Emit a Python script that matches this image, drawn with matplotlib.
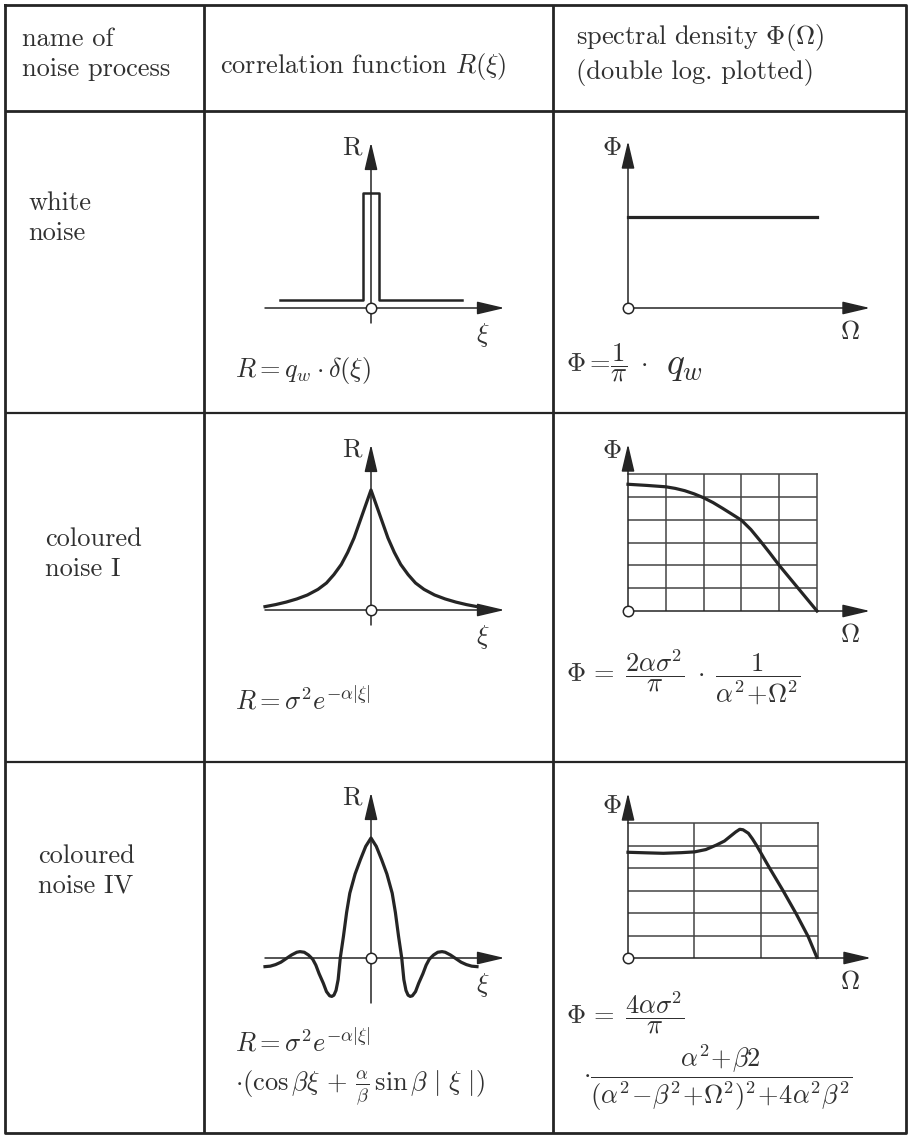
import matplotlib
matplotlib.use('Agg')
import matplotlib.pyplot as plt
from matplotlib.ticker import NullLocator
import numpy as np

W, H = 911, 1138
INK = '#252525'
TEXT = '#303030'
GRID = '#444444'
FS = 19

plt.rcParams.update({
    'mathtext.fontset': 'cm',
    'font.family': ['cmr10', 'DejaVu Serif'],
    'axes.unicode_minus': False,
})

# table text
header_name = 'name of\nnoise process'
header_corr = r'correlation function $R(\xi)$'
header_spec = 'spectral density $\\Phi(\\Omega)$\n(double log. plotted)'
row_names = ['white\nnoise', 'coloured\nnoise I', 'coloured\nnoise IV']

# correlation functions: xi scaled to the drawn half-width, R scaled to R(0)
xi_white = [-0.86, -0.075, -0.075, 0.075, 0.075, 0.86]
R_white = [0.0, 0.0, 0.89, 0.89, 0.0, 0.0]

xi_c1 = [-1.0, -0.9, -0.8, -0.7, -0.6, -0.5, -0.42, -0.35, -0.28, -0.22, -0.16, -0.1, -0.05, 0.0,
         0.05, 0.1, 0.16, 0.22, 0.28, 0.35, 0.42, 0.5, 0.6, 0.7, 0.8, 0.9, 1.0]
R_c1 = [0.028, 0.045, 0.066, 0.092, 0.125, 0.172, 0.225, 0.295, 0.38, 0.48, 0.6, 0.75, 0.875, 1.0,
        0.875, 0.75, 0.6, 0.48, 0.38, 0.295, 0.225, 0.172, 0.125, 0.092, 0.066, 0.045, 0.028]

xi_c4 = [-1.0, -0.95, -0.9, -0.85, -0.8, -0.75, -0.7, -0.67, -0.63, -0.59, -0.55, -0.52,
         -0.49, -0.45, -0.42, -0.39, -0.37, -0.35, -0.33, -0.31, -0.29, -0.26, -0.23,
         -0.2, -0.15, -0.1, -0.05, 0.0,
         0.05, 0.1, 0.15, 0.2, 0.23, 0.26, 0.29, 0.31, 0.33, 0.35, 0.37, 0.39, 0.42,
         0.45, 0.49, 0.52, 0.55, 0.59, 0.63, 0.67, 0.7, 0.75, 0.8, 0.85, 0.9, 0.95, 1.0]
R_c4 = [-0.072, -0.068, -0.055, -0.035, -0.005, 0.025, 0.048, 0.053, 0.048, 0.025, -0.01, -0.06,
        -0.13, -0.21, -0.28, -0.315, -0.32, -0.31, -0.27, -0.18, 0.0, 0.18, 0.38,
        0.54, 0.70, 0.82, 0.93, 1.0,
        0.93, 0.82, 0.70, 0.54, 0.38, 0.18, 0.0, -0.18, -0.27, -0.31, -0.32, -0.315, -0.28,
        -0.21, -0.13, -0.06, -0.01, 0.025, 0.048, 0.053, 0.048, 0.025, -0.005, -0.035, -0.055,
        -0.068, -0.072]

# spectral densities (log-log)
Om_white = [0.01, 1000]
Phi_white = [0.01, 0.01]

Om_c1 = [0.01, 0.0316, 0.1, 0.178, 0.316, 0.562, 1.0, 1.78, 3.16, 5.62, 10, 17.8, 31.6,
         56.2, 100, 316, 1000]
Phi_c1 = [0.355, 0.316, 0.275, 0.234, 0.186, 0.135, 0.091, 0.056, 0.0316, 0.0174, 0.0095,
          0.0037, 0.00117, 3.5e-4, 1.0e-4, 1.0e-5, 1.0e-6]

Om_c4 = [0.1, 0.2, 0.34, 0.63, 1.0, 1.48, 2.14, 2.82, 3.39, 4.17, 4.79, 5.37, 6.46, 7.41,
         8.51, 13.5, 21.4, 33.9, 51.3, 69.2]
Phi_c4 = [0.050, 0.047, 0.045, 0.048, 0.052, 0.066, 0.105, 0.158, 0.245, 0.40, 0.525, 0.50,
          0.35, 0.20, 0.105, 0.0098, 0.001, 9.1e-5, 8.9e-6, 1.07e-6]

fig = plt.figure(figsize=(W / 100, H / 100), dpi=100)
base = fig.add_axes([0, 0, 1, 1])
base.set_xlim(0, W)
base.set_ylim(H, 0)
base.axis('off')

# table frame
x_left, x_c1, x_c2, x_right = 5, 204, 553, 906
y_top, y_head, y_r1, y_r2, y_bot = 5, 111, 413, 762, 1133
base.plot([x_left, x_right, x_right, x_left, x_left],
          [y_top, y_top, y_bot, y_bot, y_top], color=INK, lw=2.0)
base.hlines(y_head, x_left, x_right, color=INK, lw=2.0)
base.hlines([y_r1, y_r2], x_left, x_right, color=INK, lw=1.6)
base.vlines([x_c1, x_c2], y_top, y_bot, color=INK, lw=2.0)

txt = dict(color=TEXT, fontsize=FS, va='center', ha='left', linespacing=1.3)
base.text(22, 54, header_name, **txt)
base.text(220, 66, header_corr, **txt)
base.text(576, 54, header_spec, **txt)
for name, (x, y) in zip(row_names, [(28, 218), (45, 554), (38, 871)]):
    base.text(x, y, name, **txt)

ARROW = dict(arrowstyle='-|>,head_length=0.85,head_width=0.2',
             mutation_scale=20, lw=1.1, color=INK, shrinkA=0, shrinkB=0)


def px_axes(l, t, r, b):
    return fig.add_axes([l / W, 1 - b / H, (r - l) / W, (b - t) / H])


# correlation function panels
ox, sx, sy = 371, 106, 120
corr = [
    (xi_white, R_white, 308, 0.067, -0.125, 1.8),
    (xi_c1, R_c1, 610, 0.0, -0.125, 2.3),
    (xi_c4, R_c4, 958, 0.0, -0.375, 2.3),
]
for xi, R, ay, lift, stub, lw in corr:
    ax = px_axes(250, ay - 180, 520, ay + 60)
    ax.set_xlim((250 - ox) / sx, (520 - ox) / sx)
    ax.set_ylim(-60 / sy, 180 / sy)
    ax.axis('off')
    ax.annotate('', xy=(1.26, 0), xytext=(-1.0, 0), arrowprops=ARROW, annotation_clip=False)
    ax.annotate('', xy=(0, 1.38), xytext=(0, stub), arrowprops=ARROW, annotation_clip=False)
    ax.plot(xi, np.asarray(R) + lift, color=INK, lw=lw, solid_joinstyle='round', clip_on=False)
    ax.plot(0, 0, 'o', ms=7.5, mfc='white', mec=INK, mew=1.1, zorder=5, clip_on=False)
    base.text(352, ay - 160, 'R', color=TEXT, fontsize=FS, ha='center', va='center')
    base.text(483, ay + 27, r'$\xi$', color=TEXT, fontsize=FS, ha='center', va='center')

# spectral density panels
spec = [
    (Om_white, Phi_white, (628, 171, 817, 308), (0.01, 1000), [], []),
    (Om_c1, Phi_c1, (628, 474, 817, 611), (0.01, 1000),
     [0.1, 1, 10, 100], [1e-5, 1e-4, 1e-3, 1e-2, 1e-1]),
    (Om_c4, Phi_c4, (628, 823, 818, 958), (0.1, 72),
     [1, 10], [1e-5, 1e-4, 1e-3, 1e-2, 1e-1]),
]
for om, phi, box, xl, xt, yt in spec:
    l, t, r, b = box
    ax = px_axes(l, t, r, b)
    ax.set_xscale('log')
    ax.set_yscale('log')
    ax.set_xlim(*xl)
    ax.set_ylim(1e-6, 1)
    ax.set_xticks(xt)
    ax.set_yticks(yt)
    ax.xaxis.set_minor_locator(NullLocator())
    ax.yaxis.set_minor_locator(NullLocator())
    ax.tick_params(length=0, labelbottom=False, labelleft=False)
    ax.patch.set_visible(False)
    for side in ['left', 'bottom']:
        ax.spines[side].set_visible(False)
    for side in ['top', 'right']:
        ax.spines[side].set_visible(bool(xt))
        ax.spines[side].set_color(GRID)
        ax.spines[side].set_linewidth(1.1)
    if xt:
        ax.grid(True, color=GRID, lw=1.1)
    ax.annotate('', xy=(1 + 53 / (r - l), 0), xytext=(0, 0), xycoords='axes fraction',
                arrowprops=ARROW, annotation_clip=False)
    ax.annotate('', xy=(0, 1 + 30 / (b - t)), xytext=(0, 0), xycoords='axes fraction',
                arrowprops=ARROW, annotation_clip=False)
    ax.plot(om, phi, color=INK, lw=2.3, solid_joinstyle='round', clip_on=False, zorder=4)
    ax.plot(0, 0, 'o', ms=7.5, mfc='white', mec=INK, mew=1.1, transform=ax.transAxes,
            zorder=6, clip_on=False)
    base.text(612, b - 160 + (8 if b == 958 else 0), r'$\Phi$', color=TEXT, fontsize=FS,
              ha='center', va='center')
    base.text(850, b + 24, r'$\Omega$', color=TEXT, fontsize=FS, ha='center', va='center')

# formulas
fm = dict(color=TEXT, fontsize=FS, ha='left', va='center')
base.text(235, 370, r'$R = q_w \cdot \delta(\xi)$', **fm)
base.text(566, 363, r'$\Phi =\!\dfrac{1}{\pi}\;\cdot$', **fm)
base.text(666, 366, r'$q_w$', color=TEXT, fontsize=27, ha='left', va='center')

base.text(235, 700, r'$R = \sigma^2 e^{-\alpha|\xi|}$', **fm)
base.text(566, 677, r'$\Phi\,=\;\dfrac{2\alpha\sigma^2}{\pi}\;\cdot\;\dfrac{1}{\alpha^2\!+\!\Omega^2}$', **fm)

base.text(235, 1042, r'$R = \sigma^2 e^{-\alpha|\xi|}$', **fm)
base.text(235, 1088, r'$\cdot(\cos\beta\xi\,+\,\frac{\alpha}{\beta}\,\sin\beta\ |\ \xi\ |)$', **fm)
base.text(566, 1013, r'$\Phi\,=\;\dfrac{4\alpha\sigma^2}{\pi}$', **fm)
base.text(583, 1078, r'$\cdot\dfrac{\alpha^2\!+\!\beta 2}'
          r'{(\alpha^2\!-\!\beta^2\!+\!\Omega^2)^2\!+\!4\alpha^2\beta^2}$', **fm)

fig.savefig('out.png', dpi=100)
